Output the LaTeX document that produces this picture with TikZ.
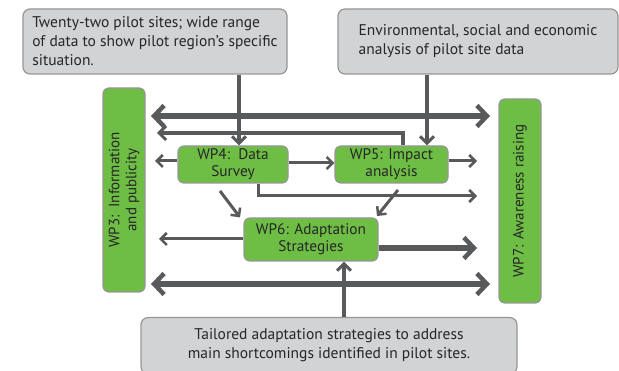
\documentclass[tikz,border=0pt]{standalone}
\usepackage{fontspec}
\setmainfont{PT Sans}
\usetikzlibrary{arrows.meta,calc}
\definecolor{wpgreen}{RGB}{110,190,70}
\definecolor{boxgray}{RGB}{209,211,212}
\definecolor{bordgray}{RGB}{150,150,150}
\definecolor{arrgray}{RGB}{88,89,91}
\tikzset{
  gbox/.style={draw=bordgray, fill=boxgray, line width=1.2pt, rounded corners=7pt, inner sep=0pt, font=\fontsize{15.5}{19}\selectfont, text=black!85},
  wpbox/.style={draw=bordgray, fill=wpgreen, line width=1.2pt, rounded corners=6pt, inner sep=0pt, align=center, font=\fontsize{15.3}{17}\selectfont, text=black!85},
  bartext/.style={rotate=90, align=center, font=\fontsize{15}{17}\selectfont, text=black!85},
  bigarr/.style={draw=arrgray, line width=5.5pt, -{Straight Barb[length=10pt,width=21pt,line width=4.5pt]}},
  bigdbl/.style={draw=arrgray, line width=5.5pt, {Straight Barb[length=10pt,width=21pt,line width=4.5pt]}-{Straight Barb[length=10pt,width=21pt,line width=4.5pt]}},
  medarr/.style={draw=arrgray, line width=4pt, -{Straight Barb[length=7pt,width=14pt,line width=3pt]}},
  thinarr/.style={draw=arrgray, line width=3pt, -{Straight Barb[length=6pt,width=12pt,line width=2.5pt]}},
}
\begin{document}
\begin{tikzpicture}[x=1pt,y=-1pt]
\useasboundingbox (0,0) rectangle (619,371);
% gray boxes
\node[gbox, minimum width=264pt, minimum height=65pt, align=left] (b1) at (155,41.5)
  {Twenty-two pilot sites; wide range\\of data to show pilot region’s specific\\situation.};
\node[gbox, minimum width=280pt, minimum height=65pt, align=left] (b2) at (478,41.5)
  {Environmental, social and economic\\analysis of pilot site data};
\node[gbox, minimum width=376pt, minimum height=56pt, align=center, anchor=north] (b3) at (329,317)
  {Tailored adaptation strategies to address\\main shortcomings identified in pilot sites.};
% side bars
\node[wpbox, minimum width=42pt, minimum height=204pt] (wp3) at (124,190) {};
\node[bartext] (wp3t) at (wp3.center) {WP3:\ \ Information\\and publicity};
\node[wpbox, minimum width=42pt, minimum height=204pt] (wp7) at (520,201) {};
\node[bartext] (wp7t) at (wp7.center) {WP7: Awareness raising};
% WP boxes
\node[wpbox, minimum width=110pt, minimum height=37pt] (wp4) at (233,164.5) {WP4:\ \ Data\\Survey};
\node[wpbox, minimum width=113pt, minimum height=37pt] (wp5) at (391.5,164.5) {WP5: Impact\\analysis};
\node[wpbox, minimum width=134pt, minimum height=43pt] (wp6) at (311,239.5) {WP6: Adaptation\\Strategies};
% coordinates
\coordinate (tl) at (151,116);
\coordinate (tr) at (490,116);
\coordinate (bl) at (151,284);
\coordinate (br) at (490,284);
\coordinate (l2) at (157,133);
\coordinate (wp4l) at (155,161);
\coordinate (wp5r) at (477,161);
\coordinate (wp4b) at (477,196);
\coordinate (wp6l) at (159,239);
\coordinate (wp6r) at (477,248);
% big double arrows
\draw[bigdbl] (tl) -- (tr);
\draw[bigdbl] (bl) -- (br);
% second line
\draw[medarr] (wp5.north -| 403,0) |- (l2);
% from gray boxes
\draw[medarr] (b1.south -| 239,0) -- (wp4.north -| 239,0);
\draw[medarr] (b2.south -| 427,0) -- (wp5.north -| 427,0);
\draw[medarr] (b3.north -| 344,0) -- (wp6.south -| 344,0);
% small arrows
\draw[thinarr] (wp4.west |- wp4l) -- (wp4l);
\draw[thinarr] (wp4.east |- 0,163) -- (wp5.west |- 0,163);
\draw[thinarr] (wp5.east |- wp5r) -- (wp5r);
\draw[thinarr] (wp4.south -| 258,0) |- (wp4b);
\draw[thinarr] (220,191) -- (wp6.north west -| 240,0);
\draw[thinarr] (398,190) -- (377,216);
\draw[thinarr] (wp6.west |- wp6l) -- (wp6l);
\draw[bigarr] (wp6.east |- wp6r) -- (wp6r);
\end{tikzpicture}
\end{document}
